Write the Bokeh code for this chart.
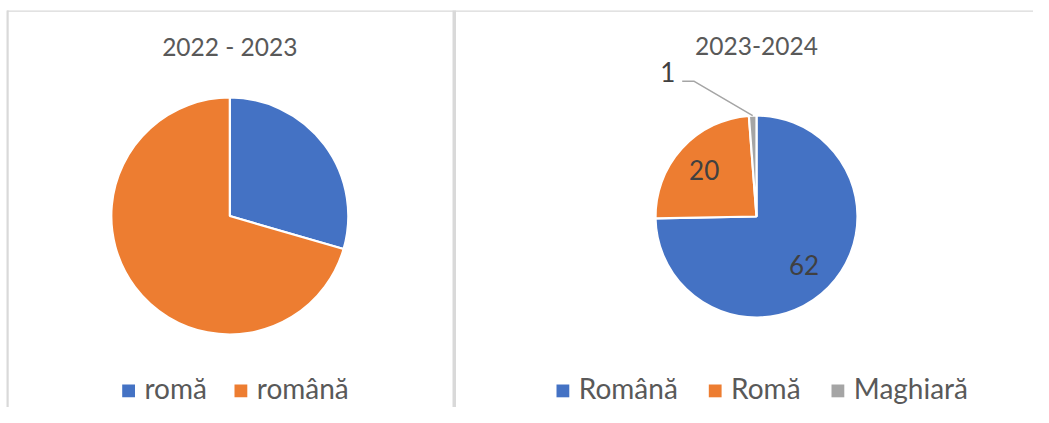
import numpy as np
from bokeh.plotting import figure
from bokeh.models import Range1d, ColumnDataSource
from bokeh.core.properties import value
from bokeh.embed import file_html
from bokeh.resources import INLINE

# ---------------- data ----------------
left_title = "2022 - 2023"
left_categories = ["romă", "română"]
left_values = [29.5, 70.5]

right_title = "2023-2024"
right_categories = ["Română", "Romă", "Maghiară"]
right_values = [62, 20, 1]

colors = ["#4472C4", "#ED7D31", "#A5A5A5"]

# ---------------- layout ----------------
W, H = 1033, 407
FONT = value("Lato")
FS = value("24.5px")
FS_LAB = value("26px")
FS_LEG = value("28px")
TDY = 10  # text baseline correction


def px(X):
    return X


def py(Y):
    return H - Y


def ty(Y):
    return H - Y + TDY


def pie_angles(vals):
    v = np.array(vals, dtype=float)
    frac = v / v.sum()
    cum = np.concatenate([[0.0], np.cumsum(frac)])
    start = np.pi / 2 - 2 * np.pi * cum[:-1]
    end = np.pi / 2 - 2 * np.pi * cum[1:]
    mid = (start + end) / 2
    return start, end, mid


p = figure(width=W, height=H, x_range=Range1d(0, W), y_range=Range1d(0, H),
           output_backend="svg", toolbar_location=None, min_border=0,
           x_axis_location=None, y_axis_location=None)
p.grid.visible = False
p.outline_line_color = None
p.background_fill_color = "white"
p.border_fill_color = "white"

# panel borders
border_c = "#D9D9D9"
p.quad(left=[px(6.5)], right=[W], top=[py(10)], bottom=[py(11.2)],
       fill_color=border_c, line_color=None)
p.quad(left=[px(6)], right=[px(8.2)], top=[py(10)], bottom=[0],
       fill_color=border_c, line_color=None)
p.quad(left=[px(452)], right=[px(455.5)], top=[py(10)], bottom=[0],
       fill_color=border_c, line_color=None)

# ---------------- left pie ----------------
lcx, lcy, lr = px(229.3), py(215.5), 118.5
ls, le, lm = pie_angles(left_values)
lsrc = ColumnDataSource(dict(start=ls, end=le, color=colors[:len(left_values)],
                             cat=left_categories))
p.wedge(x=lcx, y=lcy, radius=lr, start_angle="start", end_angle="end",
        direction="clock", fill_color="color", line_color="white",
        line_width=2.2, source=lsrc)

p.text(x=[lcx], y=[ty(55.7)], text=[left_title], text_font=FONT,
       text_font_size=FS, text_color="#595959", text_align="center",
       text_baseline="alphabetic")

# ---------------- right pie ----------------
rcx, rcy, rr = px(756), py(216), 101
rs, re_, rm = pie_angles(right_values)
rsrc = ColumnDataSource(dict(start=rs, end=re_, color=colors[:len(right_values)],
                             cat=right_categories))
p.wedge(x=rcx, y=rcy, radius=rr, start_angle="start", end_angle="end",
        direction="clock", fill_color="color", line_color="white",
        line_width=2.2, source=rsrc)

p.text(x=[rcx], y=[ty(55.7)], text=[right_title], text_font=FONT,
       text_font_size=FS, text_color="#595959", text_align="center",
       text_baseline="alphabetic")

# inside data labels (first two slices)
inside = [0, 1]
lab_x = [rcx + 0.68 * rr * np.cos(rm[i]) - 1.5 for i in inside]
lab_y = [rcy + 0.68 * rr * np.sin(rm[i]) - 10 + TDY for i in inside]
p.text(x=lab_x, y=lab_y, text=[str(right_values[i]) for i in inside],
       text_font=FONT, text_font_size=FS_LAB, text_color="#404040",
       text_align="center", text_baseline="alphabetic")

# outside label with leader line for small slice
k = 2
edge_x = rcx + rr * np.cos(rm[k])
edge_y = rcy + rr * np.sin(rm[k])
elbow_x, elbow_y = px(693.3), py(80.7)
end_x = px(681.7)
p.line(x=[edge_x, elbow_x, end_x], y=[edge_y, elbow_y, elbow_y],
       line_color="#A5A5A5", line_width=1.5)
p.text(x=[px(667.3)], y=[ty(81.7)], text=[str(right_values[k])],
       text_font=FONT, text_font_size=FS_LAB, text_color="#404040",
       text_align="center", text_baseline="alphabetic")

# ---------------- legends ----------------
sq = 12.8
leg_top, leg_base = 384, 397.5
left_leg_x = [121.7, 234]
right_leg_x = [556, 708.3, 831]
for cats, xs in ((left_categories, left_leg_x), (right_categories, right_leg_x)):
    for i, (c, x0) in enumerate(zip(cats, xs)):
        p.quad(left=[px(x0)], right=[px(x0) + sq], top=[py(leg_top)],
               bottom=[py(leg_top) - sq], fill_color=colors[i], line_color=None)
        p.text(x=[px(x0) + sq + 9.5], y=[ty(leg_base)], text=[c],
               text_font=FONT, text_font_size=FS_LEG, text_color="#595959",
               text_align="left", text_baseline="alphabetic")

open("out.html", "w").write(file_html(p, INLINE))
